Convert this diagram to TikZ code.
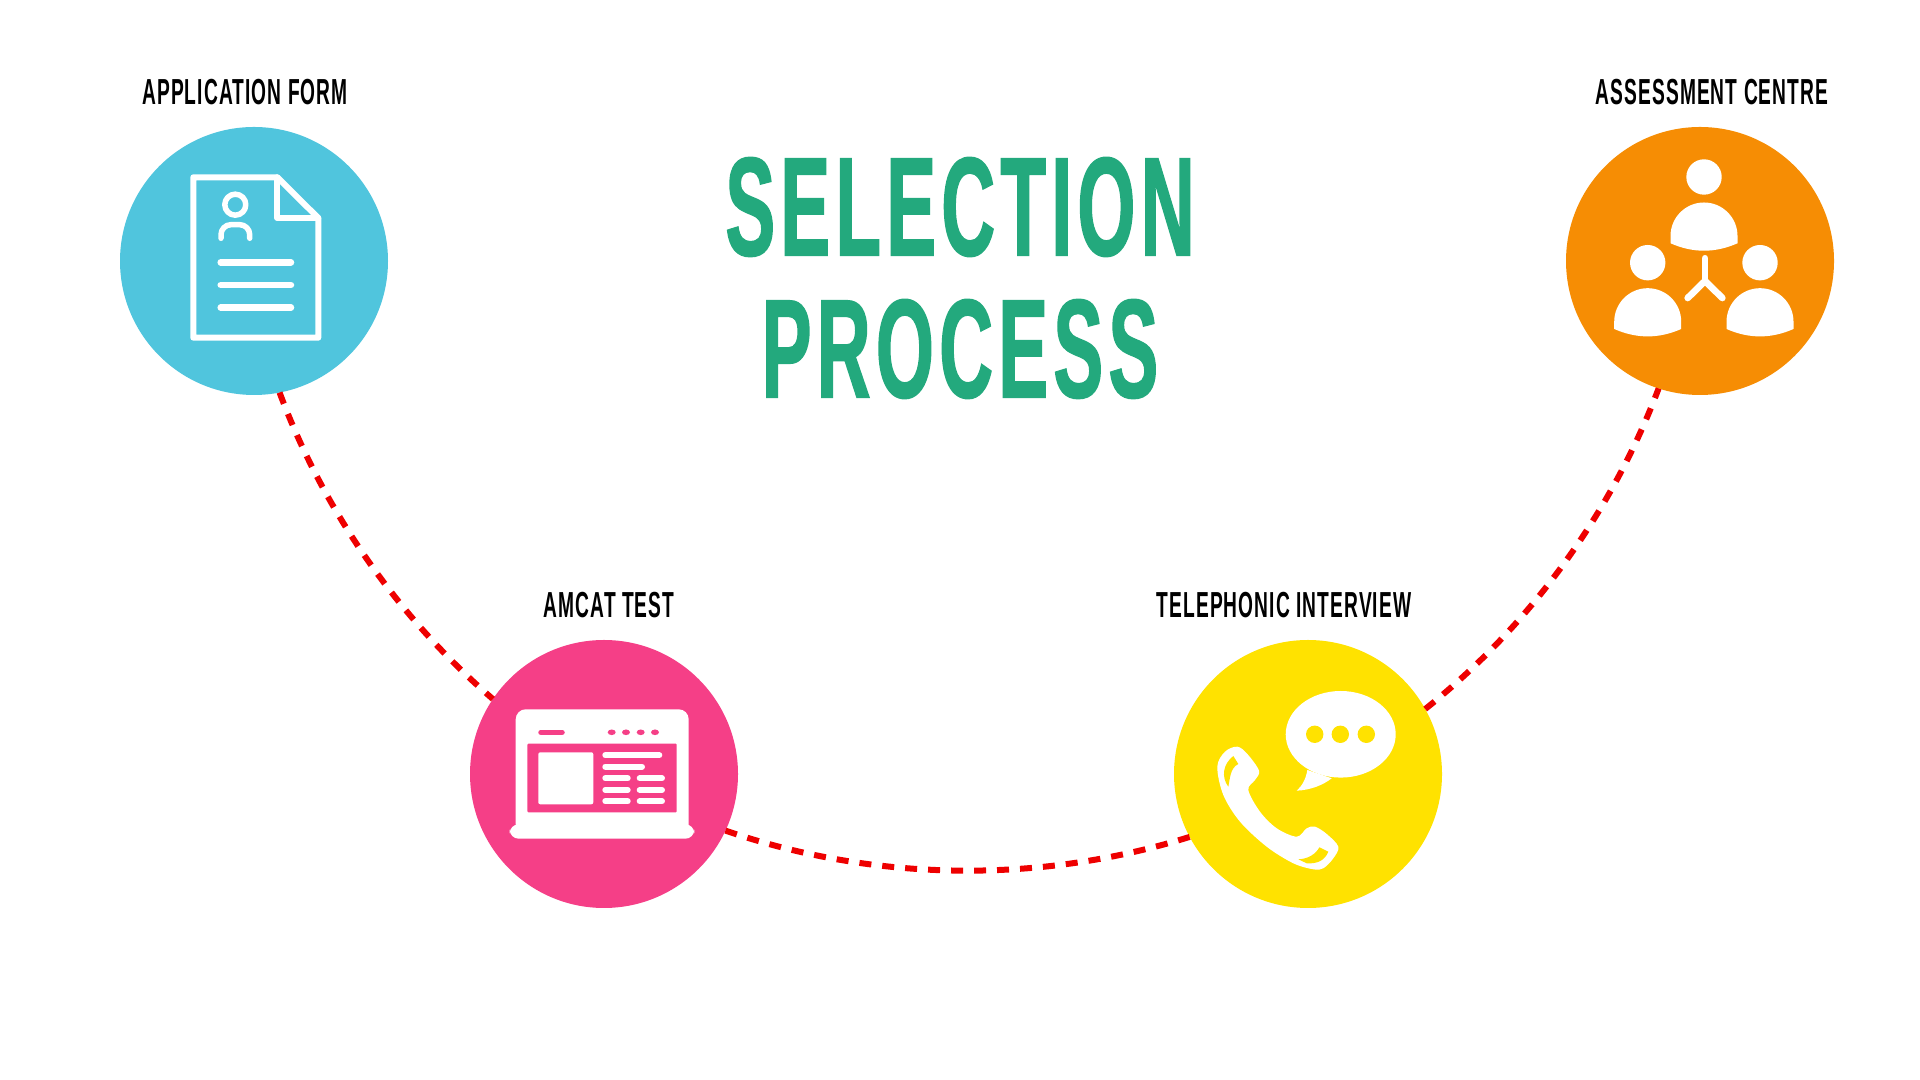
\documentclass[tikz,border=0pt]{standalone}
\usepackage{fontspec}
\usepackage{tikz}
\newfontfamily\titlefont[FakeStretch=0.53,LetterSpace=3.8,FakeBold=1]{Liberation Sans Bold}
\newfontfamily\labelfont[FakeStretch=0.53,LetterSpace=3]{Liberation Sans Bold}

\definecolor{appblue}{HTML}{50C5DD}
\definecolor{testpink}{HTML}{F53F87}
\definecolor{phoneyellow}{HTML}{FFE200}
\definecolor{centreorange}{HTML}{F68D04}
\definecolor{titlegreen}{HTML}{23A97D}
\definecolor{pathred}{HTML}{EE0000}

\tikzset{
	stepcircle/.style={circle,minimum size=2.68cm,inner sep=0pt,outer sep=0pt},
	steplabel/.style={inner sep=0pt,font=\labelfont\fontsize{10.3}{12}\selectfont},
	pathline/.style={pathred,line width=.06cm,dash pattern=on .12cm off .11cm},
	iconline/.style={white,line width=.06cm,line cap=round,line join=round}
}

\begin{document}
\begin{tikzpicture}
			
			\useasboundingbox (0,0) rectangle (19.2,10.8);
			
			% 绘制标题
			\node[titlegreen,align=center,inner sep=0pt,font=\titlefont\fontsize{40}{40.4}\selectfont] (title) at (9.6,8.02) {SELECTION\\PROCESS};
			
			% 绘制四个圆
			\node[stepcircle,fill=appblue] (app) at (2.54,8.19) {};
			\node[stepcircle,fill=testpink] (amcat) at (6.04,3.06) {};
			\node[stepcircle,fill=phoneyellow] (tel) at (13.08,3.06) {};
			\node[stepcircle,fill=centreorange] (centre) at (17,8.19) {};
			
			% 绘制标签
			\node[steplabel] (applabel) at (2.45,9.88) {APPLICATION FORM};
			\node[steplabel] (amcatlabel) at (6.09,4.75) {AMCAT TEST};
			\node[steplabel] (tellabel) at (12.84,4.75) {TELEPHONIC INTERVIEW};
			\node[steplabel] (centrelabel) at (17.12,9.88) {ASSESSMENT CENTRE};
			
			% 绘制连接线
			\draw[pathline] (app.-79) to[bend right=14.4,looseness=.86] (amcat.146);
			\draw[pathline] (amcat.-25) to[bend right=18.1,looseness=.87] (tel.-152);
			\draw[pathline] (tel.29) to[bend right=15.4,looseness=.86] (centre.-108);
			
			% 绘制文件图标
			\begin{scope}[shift={(app)}]
				\draw[iconline] (-.607,.837) -- (.233,.837) -- (.643,.43) -- (.643,-.767) -- (-.607,-.767) -- cycle;
				\draw[iconline] (.233,.837) -- (.233,.43) -- (.643,.43);
				\draw[iconline,line width=.055cm] (-.187,.563) circle (.105);
				\draw[iconline,line width=.055cm,rounded corners=.1cm] (-.33,.227) -- (-.33,.363) -- (-.043,.363) -- (-.043,.227);
				\foreach \liney in {-.013,-.24,-.467}
					\draw[iconline,line width=.065cm] (-.333,\liney) -- (.37,\liney);
			\end{scope}
			
			% 绘制电脑图标
			\begin{scope}[shift={(amcat)}]
				\fill[white,rounded corners=.1cm] (-.883,-.6) -- (-.883,.647) -- (.847,.647) -- (.847,-.6) -- cycle;
				\fill[white,rounded corners=.09cm] (-.943,-.503) -- (-.943,-.647) -- (.903,-.647) -- (.903,-.503) -- cycle;
				\fill[testpink,rounded corners=.01cm] (-.767,.303) rectangle (.727,-.383);
				\draw[testpink,line width=.055cm,line cap=round] (-.63,.417) -- (-.42,.417);
				\foreach \dotx in {.077,.22,.367,.51}
					\fill[testpink] (\dotx,.417) ellipse (.04 and .028);
				\fill[white,rounded corners=.02cm] (-.657,.217) rectangle (-.107,-.303);
				\draw[iconline] (.013,.187) -- (.553,.187);
				\draw[iconline] (.013,.073) -- (.38,.073);
				\foreach \bary in {-.043,-.16,-.273} {
					\draw[iconline] (.013,\bary) -- (.237,\bary);
					\draw[iconline] (.357,\bary) -- (.58,\bary);
				}
			\end{scope}
			
			% 绘制电话图标
			\begin{scope}[shift={(tel)}]
				\fill[white] (.327,.397) ellipse (.55 and .433);
				\fill[white] (-.007,.04) .. controls (-.02,-.05) and (-.06,-.12) .. (-.113,-.167) .. controls (.03,-.16) and (.15,-.11) .. (.237,-.043) -- cycle;
				\foreach \dotx in {.067,.323,.583}
					\fill[phoneyellow] (\dotx,.397) circle (.087);
				\fill[white] plot[smooth cycle,tension=.55] coordinates {(-.907,.073) (-.83,.223) (-.707,.273) (-.607,.2) (-.49,.033) (-.53,-.06) (-.597,-.16) (-.48,-.377) (-.313,-.543) (-.113,-.627) (-.013,-.543) (.07,-.527) (.187,-.6) (.303,-.727) (.253,-.843) (.153,-.943) (.053,-.953) (-.147,-.893) (-.413,-.727) (-.68,-.477) (-.847,-.21)};
				\fill[phoneyellow] (-.797,-.127) .. controls (-.87,-.03) and (-.85,.1) .. (-.747,.18) -- (-.697,.1) .. controls (-.78,.06) and (-.78,-.05) .. cycle;
				\fill[phoneyellow] (-.097,-.853) .. controls (0,-.85) and (.08,-.8) .. (.113,-.733) -- (.203,-.777) .. controls (.17,-.86) and (.1,-.9) .. (-.013,-.893) -- cycle;
			\end{scope}
			
			% 绘制小组图标
			\begin{scope}[shift={(centre)}]
				\foreach \px/\py in {.04/.84,-.523/-.017,.6/-.017} {
					\fill[white] (\px,\py) circle (.177);
					\fill[white] (\px-.335,\py-.663) -- (\px-.335,\py-.59) arc (180:0:.335) -- (\px+.335,\py-.663) .. controls (\px+.11,\py-.762) and (\px-.11,\py-.762) .. cycle;
				}
				\draw[iconline,line width=.067cm] (.05,.027) -- (.05,-.2);
				\draw[iconline,line width=.067cm] (-.123,-.37) -- (.05,-.2) -- (.223,-.37);
			\end{scope}
			
		\end{tikzpicture}
\end{document}
